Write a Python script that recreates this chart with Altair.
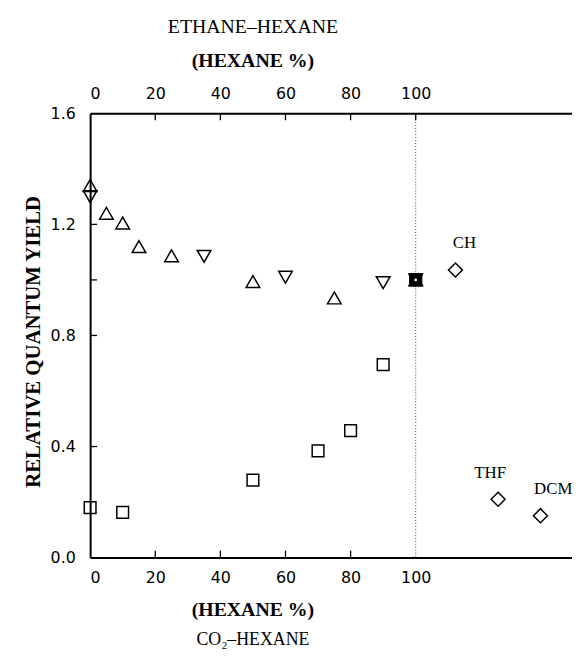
import altair as alt
import pandas as pd

# ---------------- data ----------------
up_x = [0, 5, 10, 15, 25, 50, 75, 100]
up_y = [1.34, 1.24, 1.205, 1.12, 1.087, 0.994, 0.935, 1.0]
down_x = [0, 35, 60, 90, 100]
down_y = [1.30, 1.085, 1.01, 0.99, 1.0]
sq_x = [0, 10, 50, 70, 80, 90, 100]
sq_y = [0.18, 0.163, 0.279, 0.384, 0.457, 0.695, 1.0]
solv_names = ["CH", "THF", "DCM"]
solv_x = [112.2, 125.3, 138.3]
solv_y = [1.036, 0.21, 0.151]
ref_x = [100]
ref_y = [1.0]
x_ticks = [0, 20, 40, 60, 80, 100]
y_ticks = [0.0, 0.4, 0.8, 1.2, 1.6]
y_minor = [1.0]

W, H = 487, 449
SERIF = "Liberation Serif, Times New Roman, DejaVu Serif, serif"
SANS = "DejaVu Sans, sans-serif"

X = alt.Scale(domain=[0, 148], nice=False, zero=False)
Y = alt.Scale(domain=[0, 1.6], nice=False, zero=False)

y_axis = alt.Axis(values=y_ticks, format=".1f", ticks=False, grid=False,
                  domain=True, domainColor="black", domainWidth=2,
                  labelFont=SANS, labelFontSize=16, labelColor="black",
                  labelPadding=15,
                  title="RELATIVE QUANTUM YIELD", titleFont=SERIF,
                  titleFontSize=21, titleFontWeight="bold", titleColor="black",
                  titleAngle=270, titleX=-57, titleY=H / 2 + 6,
                  titleAlign="center", titleBaseline="middle")

bottom_axis = alt.Axis(values=x_ticks, format="d", ticks=False, grid=False,
                       orient="bottom", domain=True, domainColor="black",
                       domainWidth=2, labelFont=SANS, labelFontSize=16,
                       labelColor="black", labelPadding=12, title=None)
top_axis = alt.Axis(values=x_ticks, format="d", ticks=False, grid=False,
                    orient="top", domain=True, domainColor="black",
                    domainWidth=2, labelFont=SANS, labelFontSize=16,
                    labelColor="black", labelPadding=12, title=None)


def df(**k):
    return pd.DataFrame(k)


def pts(xs, ys, shape, size, axis=None):
    return alt.Chart(df(x=xs, y=ys)).mark_point(
        shape=shape, size=size, filled=False, color="black",
        strokeWidth=1.5, opacity=1
    ).encode(x=alt.X("x:Q", scale=X, axis=axis),
             y=alt.Y("y:Q", scale=Y, axis=y_axis))


squares = pts(sq_x, sq_y, "square", 140, bottom_axis)
ups = pts(up_x, up_y, "triangle-up", 190)
downs = pts(down_x, down_y, "triangle-down", 190)
diamonds = pts(solv_x, solv_y, "diamond", 200)

ref = alt.Chart(df(x=ref_x, y=ref_y)).mark_point(
    shape="square", size=150, filled=True, color="black", opacity=1
).encode(x=alt.X("x:Q", scale=X, axis=None), y=alt.Y("y:Q", scale=Y, axis=y_axis))
ref_dot = alt.Chart(df(x=ref_x, y=ref_y)).mark_point(
    shape="circle", size=8, filled=True, color="white", opacity=1
).encode(x=alt.X("x:Q", scale=X, axis=None), y=alt.Y("y:Q", scale=Y, axis=y_axis))

vline = alt.Chart(df(x=[100])).mark_rule(
    color="#444", strokeWidth=1, strokeDash=[1, 2]
).encode(x=alt.X("x:Q", scale=X, axis=None), y=alt.value(0), y2=alt.value(H))

bottom_ticks = alt.Chart(df(x=x_ticks[1:5])).mark_rule(
    color="black", strokeWidth=1.3
).encode(x=alt.X("x:Q", scale=X, axis=None), y=alt.value(H), y2=alt.value(H - 7))

top_ticks = alt.Chart(df(x=x_ticks[1:])).mark_rule(
    color="black", strokeWidth=1.3
).encode(x=alt.X("x:Q", scale=X, axis=top_axis), y=alt.value(0), y2=alt.value(7))

left_ticks = alt.Chart(df(y=y_ticks[1:4] + y_minor)).mark_rule(
    color="black", strokeWidth=1.3
).encode(y=alt.Y("y:Q", scale=Y, axis=y_axis), x=alt.value(0), x2=alt.value(7))


def solvent_label(i, dx):
    return alt.Chart(df(x=[solv_x[i]], y=[solv_y[i]], t=[solv_names[i]])).mark_text(
        font=SERIF, fontSize=17, color="black", dx=dx, dy=-27
    ).encode(x=alt.X("x:Q", scale=X, axis=None),
             y=alt.Y("y:Q", scale=Y, axis=y_axis), text="t:N")


lab_ch = solvent_label(0, 9)
lab_thf = solvent_label(1, -8)
lab_dcm = solvent_label(2, 13)


def title_text(txt, ypx, bold, size):
    return alt.Chart(df(t=[txt])).mark_text(
        font=SERIF, fontSize=size, color="black",
        fontWeight="bold" if bold else "normal", baseline="middle"
    ).encode(x=alt.XDatum(50, scale=X, axis=None), y=alt.value(ypx), text="t:N")


t1 = title_text("ETHANE–HEXANE", 24 - 111, False, 20)
t2 = title_text("(HEXANE %)", 58 - 111, True, 20)
t3 = title_text("(HEXANE %)", 613 - 111, True, 20)
t4 = title_text("CO₂–HEXANE", 643 - 111, False, 18)

chart = alt.layer(
    vline, bottom_ticks, top_ticks, left_ticks,
    squares, ups, downs, diamonds, ref, ref_dot,
    lab_ch, lab_thf, lab_dcm, t1, t2, t3, t4
).resolve_scale(x="independent").resolve_axis(x="independent").properties(
    width=W, height=H,
    autosize=alt.AutoSizeParams(type="none"),
    padding={"left": 83, "top": 103, "right": 0, "bottom": 95},
).configure_view(stroke=None).configure(background="white")

chart.save("out.html", embed_options={"renderer": "svg", "actions": False})
